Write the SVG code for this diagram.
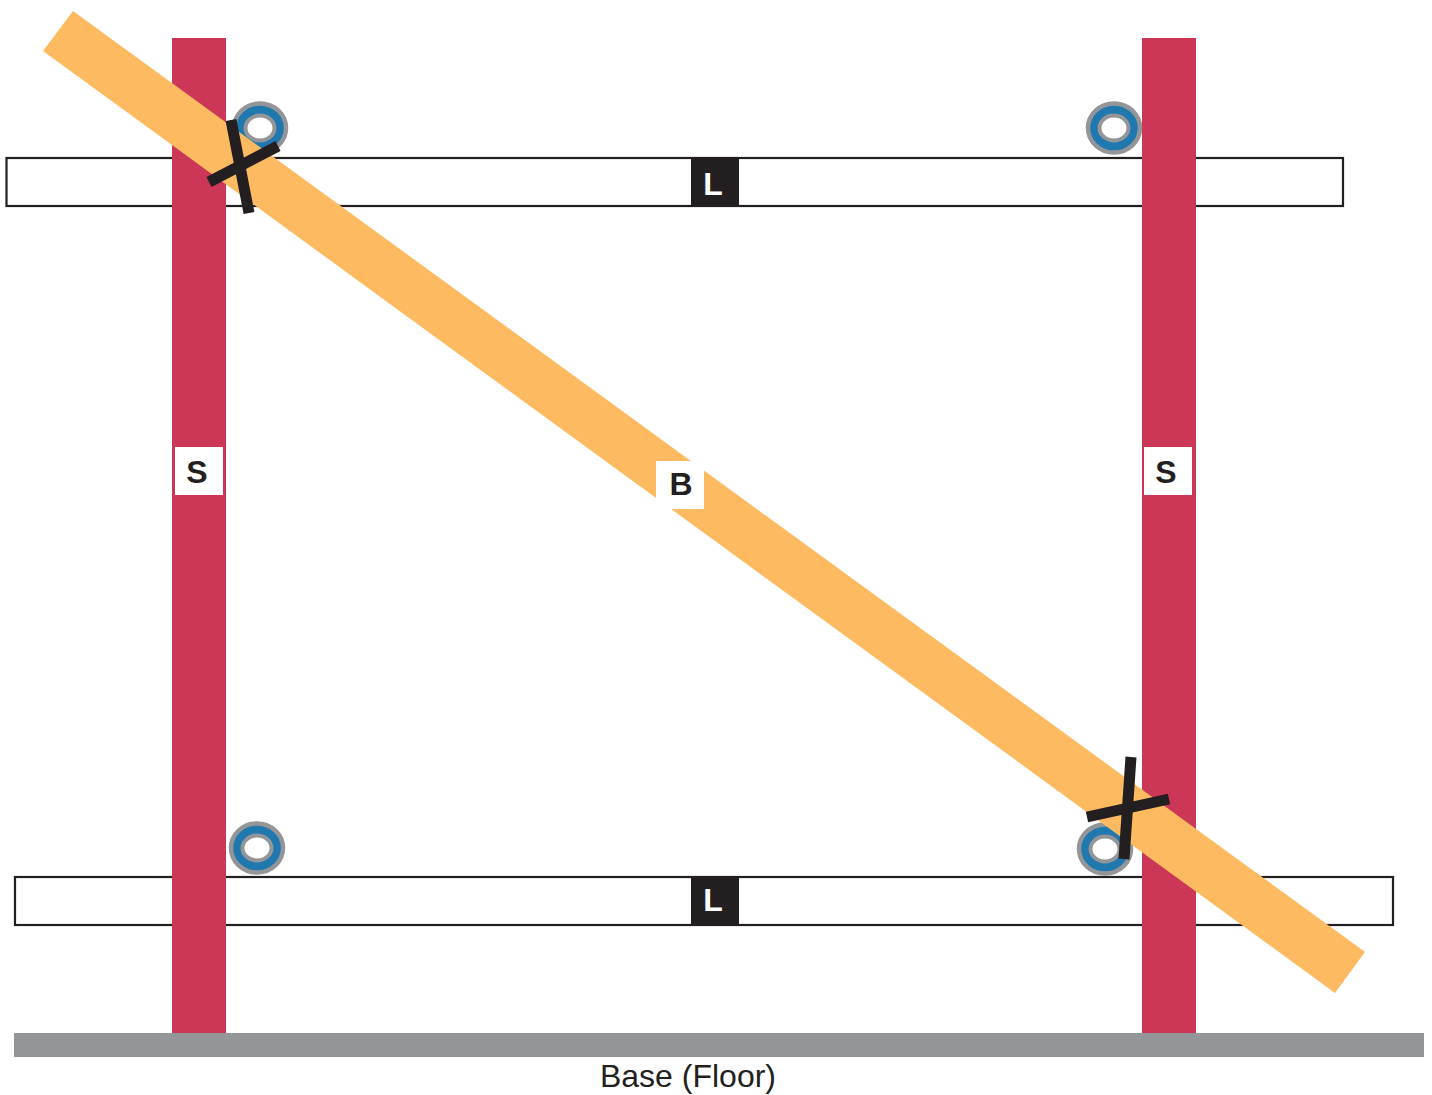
<svg xmlns="http://www.w3.org/2000/svg" width="1432" height="1095" viewBox="0 0 1432 1095">
<style>
.ledger{fill:#fff;stroke:#231f20;stroke-width:2.2}
.stile{fill:#cc3758}
.ring-o{fill:#1f78ae;stroke:#939598;stroke-width:4.500}
.ring-i{fill:#fff;stroke:#939598;stroke-width:4}
.x{stroke:#231f20;stroke-width:11;fill:none}
.t{font-family:"Liberation Sans",Arial,sans-serif;font-weight:700;font-size:32px;text-anchor:middle;fill:#231f20}
</style>
<rect width="1432" height="1095" fill="#fff"/>
<g id="ledger-top"><rect class="ledger" x="6.500" y="158" width="1336.500" height="48"/></g>
<g id="ledger-bottom"><rect class="ledger" x="15" y="877" width="1378" height="48"/></g>
<g id="base"><rect x="14" y="1033" width="1410" height="24" fill="#939598"/></g>
<g id="stile-left"><rect class="stile" x="172" y="38" width="54" height="995"/></g>
<g id="stile-right"><rect class="stile" x="1142" y="38" width="54" height="995"/></g>
<g id="ring-tl"><ellipse class="ring-o" cx="260" cy="128" rx="26" ry="24.500"/><ellipse class="ring-i" cx="260" cy="128" rx="14.500" ry="12.500"/></g>
<g id="ring-tr"><ellipse class="ring-o" cx="1114" cy="128" rx="26" ry="24.500"/><ellipse class="ring-i" cx="1114" cy="128" rx="14.500" ry="12.500"/></g>
<g id="ring-bl"><ellipse class="ring-o" cx="257" cy="848" rx="26" ry="24.500"/><ellipse class="ring-i" cx="257" cy="848" rx="14.500" ry="12.500"/></g>
<g id="ring-br"><ellipse class="ring-o" cx="1105" cy="849" rx="26" ry="24.500"/><ellipse class="ring-i" cx="1105" cy="849" rx="14.500" ry="12.500"/></g>
<g id="brace"><polygon points="73,11 43,51 1335,993 1365,952" fill="#fdba60"/></g>
<g id="connectors">
<path class="x" d="M231,120L249,213M209,182L278,146"/>
<path class="x" d="M1131,757L1124,859M1087,817L1169,799"/>
</g>
<g id="label-l-top"><rect x="691" y="158" width="48" height="48" fill="#231f20"/><text class="t" x="713" y="195" style="fill:#fff">L</text></g>
<g id="label-l-bottom"><rect x="691" y="877" width="48" height="48" fill="#231f20"/><text class="t" x="713" y="911" style="fill:#fff">L</text></g>
<g id="label-s-left"><rect x="175" y="447" width="48" height="48" fill="#fff"/><text class="t" x="197" y="483">S</text></g>
<g id="label-s-right"><rect x="1144" y="447" width="48" height="48" fill="#fff"/><text class="t" x="1166" y="483">S</text></g>
<g id="label-b"><rect x="656" y="461" width="48" height="48" fill="#fff"/><text class="t" x="681" y="495">B</text></g>
<g id="label-base"><text x="688" y="1087" font-family="Liberation Sans, Arial, sans-serif" font-size="32" text-anchor="middle" fill="#231f20">Base (Floor)</text></g>
</svg>
